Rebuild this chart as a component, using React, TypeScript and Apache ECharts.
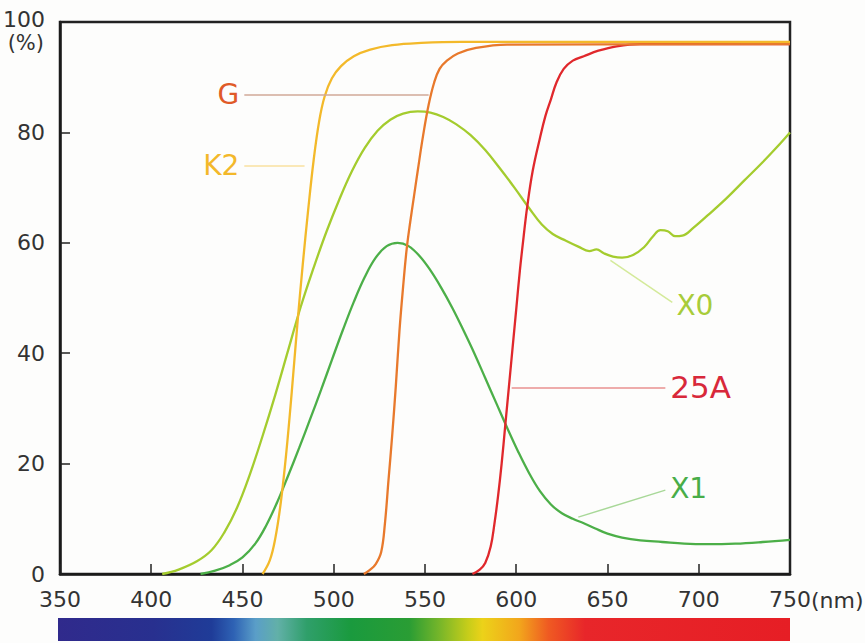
import React, { useEffect, useRef } from "react";
import * as echarts from "echarts";

// wavelength (nm), transmittance (%)
const k2Data: number[][] = [
  [461, 0], [465, 2.5], [468, 6.5], [471, 13], [474, 22], [477, 33], [480, 45], [483, 56],
  [486, 66], [489, 75], [492, 82], [495, 86.5], [499, 89.8], [504, 92], [511, 93.8],
  [520, 95], [532, 95.8], [548, 96.2], [570, 96.4], [750, 96.4],
];
const gData: number[][] = [
  [516.5, 0], [520, 0.8], [523, 1.8], [526, 4], [528, 9], [530, 17], [532, 25], [534, 34],
  [536, 44], [538, 52], [540, 59], [542, 64], [544, 68.5], [546, 73], [549, 79.5], [552, 85],
  [555, 89], [558, 91.5], [562, 93], [568, 94.3], [578, 95.3], [595, 95.9], [750, 96],
];
const a25Data: number[][] = [
  [576, 0], [580, 0.8], [583, 2], [586, 5], [588, 9], [590, 14], [592, 20], [594, 27],
  [596, 34], [598, 41], [600, 48], [602, 55], [604, 61], [606, 66.5], [609, 73], [613, 79],
  [616, 83], [619, 86], [622, 89], [626, 91.5], [631, 93], [637, 93.8], [645, 94.8],
  [655, 95.6], [668, 96], [750, 96],
];
const x0Data: number[][] = [
  [406, 0], [415, 0.8], [425, 2.3], [433, 4.3], [440, 7.5], [447, 12], [454, 18], [461, 25],
  [468, 32.5], [475, 40.5], [482, 48.5], [489, 55.5], [496, 62], [503, 67.8], [510, 73],
  [517, 77.2], [524, 80.3], [531, 82.3], [538, 83.4], [546, 83.8], [553, 83.6], [560, 82.8],
  [567, 81.5], [575, 79.5], [583, 76.8], [591, 73.5], [599, 70], [607, 66.3], [614, 63.3],
  [620, 61.6], [627, 60.4], [634, 59.3], [640, 58.5], [644, 58.8], [648, 58.1], [653, 57.5],
  [658, 57.3], [664, 57.8], [670, 59.2], [675, 61.2], [679, 62.3], [683, 62.1], [687, 61.2],
  [691, 61.3], [697, 62.7], [705, 65], [715, 68], [725, 71.3], [735, 74.6], [743, 77.4],
  [750, 80],
];
const x1Data: number[][] = [
  [427, 0], [435, 0.6], [443, 1.6], [450, 3], [457, 5.5], [463, 8.8], [469, 13], [475, 17.8],
  [481, 22.8], [487, 28], [493, 33.3], [499, 38.8], [505, 44.2], [511, 49.3], [517, 53.8],
  [523, 57.3], [529, 59.4], [535, 60], [541, 59.4], [547, 57.6], [553, 55], [559, 51.8],
  [565, 48.2], [571, 44.2], [577, 40], [583, 35.5], [589, 31], [595, 26.5], [601, 22.2],
  [607, 18.3], [613, 15], [619, 12.6], [625, 11], [631, 10], [637, 9.2], [643, 8.3],
  [650, 7.3], [658, 6.6], [668, 6.1], [680, 5.8], [692, 5.5], [705, 5.4], [720, 5.5],
  [735, 5.8], [750, 6.2],
];

// leader lines: [startNm, startPct, endNm, endPct]
const gLeader = [451, 86.9, 552, 86.9];
const k2Leader = [451, 74, 484, 74];
const x0Leader = [651.6, 56.8, 685.5, 49.2];
const a25Leader = [597.5, 33.8, 681.7, 33.8];
const x1Leader = [634, 10.3, 681.7, 15.2];

const xTicks = { min: 350, max: 750, interval: 50 };
const yTicks = { min: 0, max: 100, interval: 20 };

const spectrumStops: [number, string][] = [
  [0, "#302a8c"], [0.13, "#28308f"], [0.21, "#1f3c98"], [0.24, "#2e62b4"],
  [0.27, "#5a9ec8"], [0.3, "#62b0a8"], [0.34, "#2f9f6a"], [0.4, "#1a9a3e"],
  [0.48, "#2a9d34"], [0.52, "#74b52a"], [0.56, "#c6cd1a"], [0.58, "#ecd219"],
  [0.63, "#f2a61c"], [0.67, "#ef5a22"], [0.72, "#e8262a"], [1, "#e61e25"],
];

const FONT = "DejaVu Sans";

function leader(l: number[], text: string, color: string, lineColor: string, pos: string, size: number) {
  return {
    silent: true,
    symbol: ["none", "none"],
    lineStyle: { color: lineColor, width: 1.5, type: "solid" },
    label: {
      show: true,
      position: pos,
      formatter: text,
      color,
      fontFamily: FONT,
      fontSize: size,
      distance: 5,
    },
    data: [[{ coord: [l[0], l[1]] }, { coord: [l[2], l[3]] }]],
  };
}

function curve(name: string, data: number[][], color: string, ml: any, z: number) {
  return {
    name,
    type: "line",
    data,
    smooth: 0.4,
    symbol: "none",
    z,
    lineStyle: { color, width: 2.3 },
    markLine: ml,
  };
}

export default function App() {
  const ref = useRef<HTMLDivElement>(null);
  useEffect(() => {
    if (!ref.current) return;
    const chart = echarts.init(ref.current, undefined, { renderer: "svg" });
    chart.setOption({
      animation: false,
      backgroundColor: "#fdfdfc",
      grid: {
        left: 58, right: 75, top: 22, bottom: 69,
        show: true, borderColor: "#222", borderWidth: 2.5,
      },
      xAxis: {
        type: "value",
        min: xTicks.min, max: xTicks.max, interval: xTicks.interval,
        axisLine: { lineStyle: { color: "#1a1a1a", width: 2.5 } },
        axisTick: { inside: true, length: 10, lineStyle: { color: "#222", width: 1.5 } },
        splitLine: { show: false },
        axisLabel: { color: "#333", fontSize: 22, fontFamily: FONT, margin: 14 },
      },
      yAxis: {
        type: "value",
        min: yTicks.min, max: yTicks.max, interval: yTicks.interval,
        axisLine: { show: true, lineStyle: { color: "#1a1a1a", width: 2.5 } },
        axisTick: { show: true, inside: true, length: 10, lineStyle: { color: "#222", width: 1.5 } },
        splitLine: { show: false },
        axisLabel: {
          color: "#333", fontSize: 22, fontFamily: FONT, margin: 15,
          formatter: (v: number) => (v === 100 ? "{top|100}" : String(v)),
          rich: { top: { fontSize: 22, fontFamily: FONT, color: "#333", padding: [0, 0, 5, 0] } },
        },
      },
      graphic: [
        {
          type: "text", right: 865 - 44, top: 32,
          style: { text: "(%)", fill: "#333", font: `21px '${FONT}'` },
        },
        {
          type: "text", left: 811, top: 589,
          style: { text: "(nm)", fill: "#333", font: `22px '${FONT}'` },
        },
        {
          type: "rect", left: 58, top: 618,
          shape: { width: 732, height: 23 },
          style: {
            fill: new echarts.graphic.LinearGradient(0, 0, 1, 0,
              spectrumStops.map(([offset, color]) => ({ offset, color }))),
          },
        },
      ],
      series: [
        curve("25A", a25Data, "#e0282c", leader(a25Leader, "25A", "#d8283a", "#e89090", "end", 31), 3),
        curve("K2", k2Data, "#f3b92a", leader(k2Leader, "K2", "#f3b82a", "#f8e0a0", "start", 28), 4),
        curve("G", gData, "#e8792c", leader(gLeader, "G", "#e05a28", "#d0a898", "start", 28), 5),
        curve("X0", x0Data, "#a4cc2e", leader(x0Leader, "X0", "#a8cc3a", "#d4ea9a", "end", 28), 2),
        curve("X1", x1Data, "#4caf48", leader(x1Leader, "X1", "#48ad48", "#a8d898", "end", 28), 2),
      ],
    });
    return () => chart.dispose();
  }, []);
  return <div ref={ref} style={{ position: "fixed", left: 0, top: 0, width: 865, height: 643 }} />;
}
